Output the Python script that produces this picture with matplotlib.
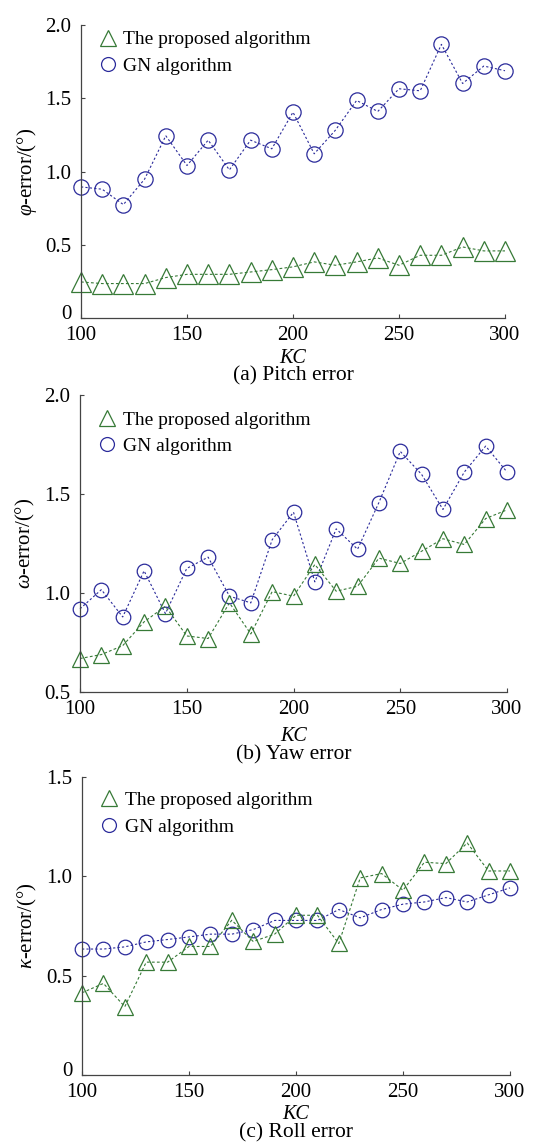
import matplotlib
matplotlib.use("Agg")
import matplotlib.pyplot as plt
from matplotlib.lines import Line2D
from matplotlib.ticker import FuncFormatter
from matplotlib.transforms import ScaledTranslation

plt.rcParams['font.family'] = ['Liberation Serif', 'DejaVu Serif']
plt.rcParams['mathtext.fontset'] = 'custom'
plt.rcParams['mathtext.rm'] = 'Liberation Serif'
plt.rcParams['mathtext.it'] = 'Liberation Serif:italic'

kc = [100, 110, 120, 130, 140, 150, 160, 170, 180, 190, 200,
      210, 220, 230, 240, 250, 260, 270, 280, 290, 300]

pitch_proposed = [0.246, 0.235, 0.235, 0.235, 0.276, 0.298, 0.298, 0.298, 0.314, 0.330, 0.349,
                  0.383, 0.360, 0.383, 0.410, 0.360, 0.428, 0.428, 0.485, 0.458, 0.458]
pitch_gn = [0.895, 0.879, 0.774, 0.948, 1.244, 1.041, 1.214, 1.011, 1.214, 1.155, 1.405,
            1.121, 1.282, 1.485, 1.410, 1.565, 1.551, 1.868, 1.601, 1.720, 1.688]

yaw_proposed = [0.669, 0.689, 0.734, 0.854, 0.933, 0.783, 0.770, 0.950, 0.793, 1.007, 0.984,
                1.144, 1.009, 1.034, 1.176, 1.149, 1.211, 1.274, 1.245, 1.376, 1.420]
yaw_gn = [0.920, 1.017, 0.879, 1.112, 0.896, 1.124, 1.181, 0.984, 0.950, 1.269, 1.408,
          1.056, 1.324, 1.221, 1.457, 1.715, 1.599, 1.422, 1.611, 1.742, 1.611]

roll_proposed = [0.414, 0.461, 0.344, 0.568, 0.568, 0.647, 0.647, 0.779, 0.672, 0.709, 0.804,
                 0.804, 0.662, 0.992, 1.014, 0.930, 1.071, 1.064, 1.168, 1.027, 1.027]
roll_gn = [0.634, 0.634, 0.645, 0.670, 0.682, 0.695, 0.709, 0.709, 0.732, 0.778, 0.778,
           0.778, 0.833, 0.791, 0.833, 0.860, 0.871, 0.893, 0.871, 0.907, 0.942]

xticks = [100, 150, 200, 250, 300]
legend_labels = ['The proposed algorithm', 'GN algorithm']

GREEN = '#377a37'
BLUE = '#2b2b9b'


def fmt(v, pos):
    return '0' if abs(v) < 1e-9 else '%.1f' % v


def draw_panel(fig, ax, proposed, gn, ylim, yticks, ylabel, caption,
               tri_ms, circ_ms, kc_y, cap_y, leg_y):
    ax.plot(kc, gn, color=BLUE, lw=0.8, ls=(0, (2, 2)), marker='o', ms=circ_ms,
            mfc='none', mec=BLUE, mew=0.9, clip_on=False)
    ax.plot(kc, proposed, color=GREEN, lw=0.8, ls=(0, (2.5, 2)), marker='^', ms=tri_ms,
            mfc='none', mec=GREEN, mew=0.9, clip_on=False)
    ax.set_xlim(100, 300)
    ax.set_ylim(*ylim)
    ax.set_xticks(xticks)
    ax.set_yticks(yticks)
    ax.yaxis.set_major_formatter(FuncFormatter(fmt))
    for s in ('top', 'right'):
        ax.spines[s].set_visible(False)
    for s in ('left', 'bottom'):
        ax.spines[s].set_color('#444444')
        ax.spines[s].set_linewidth(0.9)
    ax.tick_params(direction='in', length=3, width=0.8, color='#444444', labelsize=15)
    ax.tick_params(axis='y', pad=7)
    ax.tick_params(axis='x', pad=6)

    # the "0" label sits a little above its tick in the original
    if yticks[0] == 0:
        t0 = ax.yaxis.get_major_ticks()[0]
        t0.label1.set_transform(t0.label1.get_transform()
                                + ScaledTranslation(0, 4 / 72, fig.dpi_scale_trans))

    ax.set_ylabel(ylabel, fontsize=15)
    ax.yaxis.set_label_coords(-0.10, 0.5)
    ax.text(0.5, kc_y, 'KC', transform=ax.transAxes, ha='center', va='center',
            fontsize=14.5, fontstyle='italic')
    ax.text(0.5, cap_y, caption, transform=ax.transAxes, ha='center', va='center',
            fontsize=15.5)
    handles = [
        Line2D([], [], ls='none', marker='^', ms=11, mfc='none', mec=GREEN, mew=0.9),
        Line2D([], [], ls='none', marker='o', ms=10, mfc='none', mec=BLUE, mew=0.9),
    ]
    ax.legend(handles, legend_labels, loc='upper left',
              bbox_to_anchor=(0.013, leg_y), frameon=False, fontsize=14,
              handlelength=1.0, handletextpad=0.3, labelspacing=0.45, borderaxespad=0.2)


fig = plt.figure(figsize=(5.45, 11.43), dpi=100)
ax1 = fig.add_axes([0.1486, 0.7218, 0.778, 0.2563])
ax2 = fig.add_axes([0.1468, 0.3946, 0.7835, 0.2598])
ax3 = fig.add_axes([0.1505, 0.0595, 0.7853, 0.2607])

draw_panel(fig, ax1, pitch_proposed, pitch_gn, (0, 2.0), [0, 0.5, 1.0, 1.5, 2.0],
           r'$\varphi$-error/(°)', '(a) Pitch error', 15, 11, -0.139, -0.199, 1.02)
draw_panel(fig, ax2, yaw_proposed, yaw_gn, (0.5, 2.0), [0.5, 1.0, 1.5, 2.0],
           r'$\omega$-error/(°)', '(b) Yaw error', 11, 10.5, -0.149, -0.213, 0.985)
draw_panel(fig, ax3, roll_proposed, roll_gn, (0, 1.5), [0, 0.5, 1.0, 1.5],
           r'$\kappa$-error/(°)', '(c) Roll error', 11, 10.5, -0.132, -0.194, 0.99)

fig.savefig('out.png', dpi=100)
